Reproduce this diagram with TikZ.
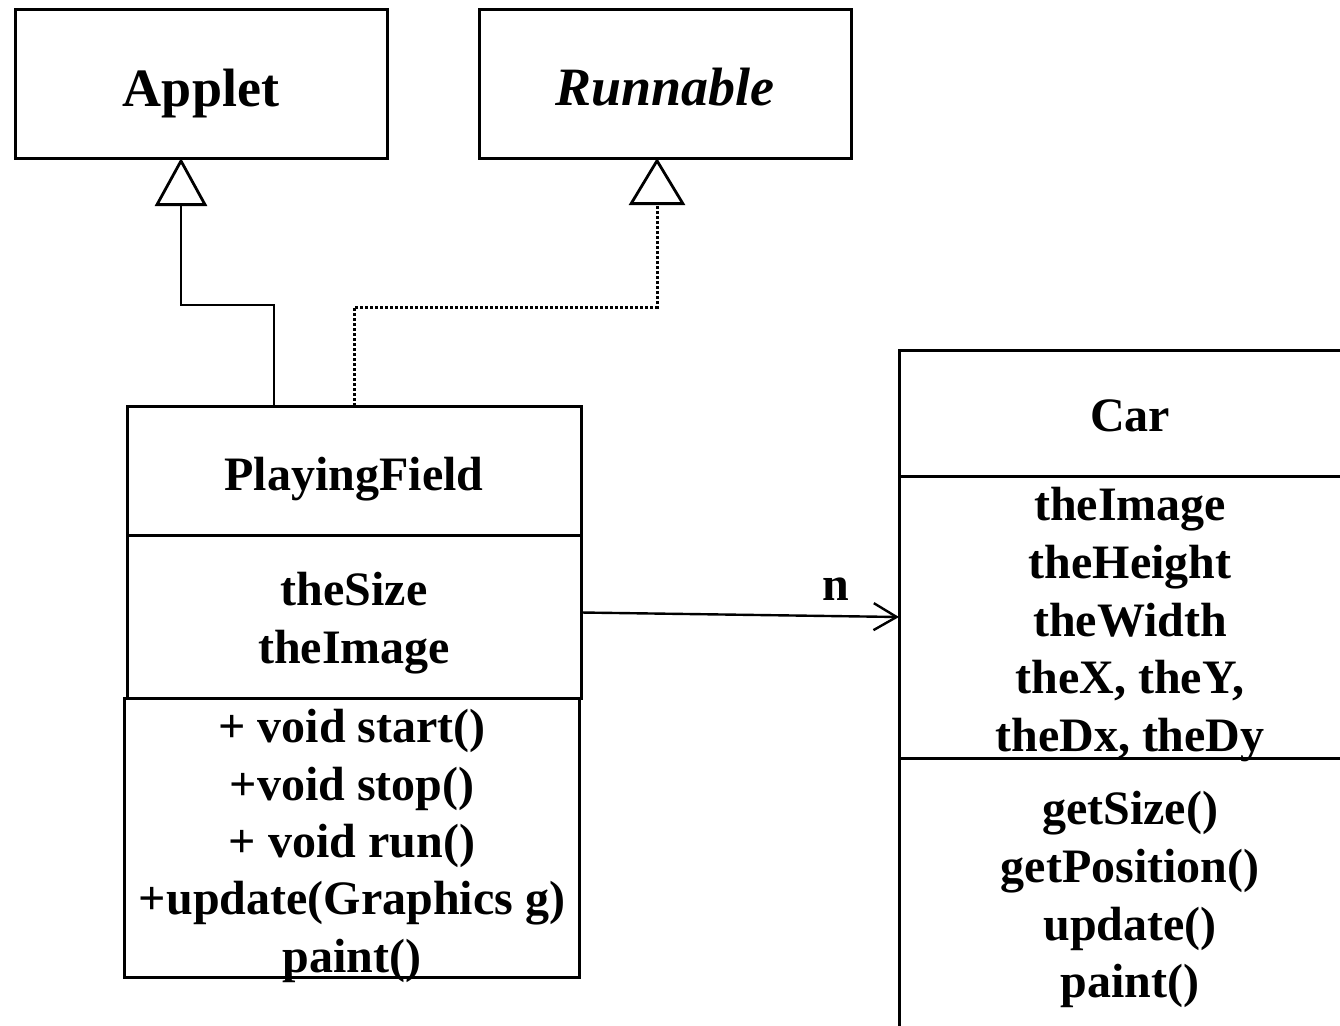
\documentclass[tikz,border=0pt]{standalone}
\usepackage{fontspec}
\setmainfont{Liberation Serif}
\usetikzlibrary{arrows.meta}
\begin{document}
\begin{tikzpicture}[x=1pt,y=-1pt,
  box/.style={draw, line width=3pt, anchor=north west, inner sep=0pt, outer sep=0pt},
  lbl/.style={font=\fontsize{48}{57.6}\selectfont\bfseries, anchor=base, inner sep=0pt},
  big/.style={font=\fontsize{54}{64}\selectfont\bfseries, anchor=base, inner sep=0pt},
  gen/.style={line width=2.8pt, -{Triangle[open,length=48pt,width=52pt]}},
  real/.style={line width=3pt, dash pattern=on 3pt off 2pt, -{Triangle[open,length=47pt,width=56pt,line width=2.8pt]}},
  assoc/.style={line width=2.4pt, -{Straight Barb[length=23pt,width=27pt]}},
]
\useasboundingbox (0,0) rectangle (1340,1025);
\clip (0,0) rectangle (1340,1025);

% boxes
\node[box, minimum width=372pt, minimum height=148pt] (applet) at (15,10) {};
\node[box, minimum width=372pt, minimum height=148pt] (runnable) at (479,10) {};
\node[box, minimum width=454pt, minimum height=129pt] (pfname) at (127,406) {};
\node[box, minimum width=454pt, minimum height=163pt] (pfattr) at (127,535) {};
\node[box, minimum width=455pt, minimum height=279pt] (pfops) at (124,698) {};
\node[box, minimum width=462pt, minimum height=126pt] (carname) at (899,350) {};
\node[box, minimum width=462pt, minimum height=282pt] (carattr) at (899,476) {};
\node[box, minimum width=462pt, minimum height=290pt] (carops) at (899,758) {};

% texts
\node[big] (tapplet) at (201,106) {Applet};
\node[big] (trunnable) at (665,105) {\itshape Runnable};
\node[lbl] (tpf) at (354,490) {PlayingField};
\node[lbl] (tpfa1) at (354,605) {theSize};
\node[lbl] (tpfa2) at (354,663) {theImage};
\node[lbl] (tpfo1) at (352,742) {+ void start()};
\node[lbl] (tpfo2) at (352,800) {+void stop()};
\node[lbl] (tpfo3) at (352,857) {+ void run()};
\node[lbl] (tpfo4) at (352,914) {+update(Graphics g)};
\node[lbl] (tpfo5) at (352,972) {paint()};
\node[lbl] (tcar) at (1130,431) {Car};
\node[lbl] (tca1) at (1130,520) {theImage};
\node[lbl] (tca2) at (1130,578) {theHeight};
\node[lbl] (tca3) at (1130,636) {theWidth};
\node[lbl] (tca4) at (1130,693) {theX, theY,};
\node[lbl] (tca5) at (1130,751) {theDx, theDy};
\node[lbl] (tco1) at (1130,824) {getSize()};
\node[lbl] (tco2) at (1130,882) {getPosition()};
\node[lbl] (tco3) at (1130,940) {update()};
\node[lbl] (tco4) at (1130,997) {paint()};
\node[lbl] (mult) at (836,600) {n};

% connectors
\coordinate (k1) at (274,305);
\coordinate (k2) at (181,305);
\coordinate (k3) at (354,307);
\coordinate (k4) at (657,307);
\draw[gen] (pfname.north -| k1) -- (k1) -- (k2) -- (k2 |- applet.south);
\draw[real] (pfname.north -| k3) -- (k3) -- (k4) -- (k4 |- runnable.south);
\draw[assoc] ([yshift=4pt]pfattr.east) -- (carattr.west);
\end{tikzpicture}
\end{document}
